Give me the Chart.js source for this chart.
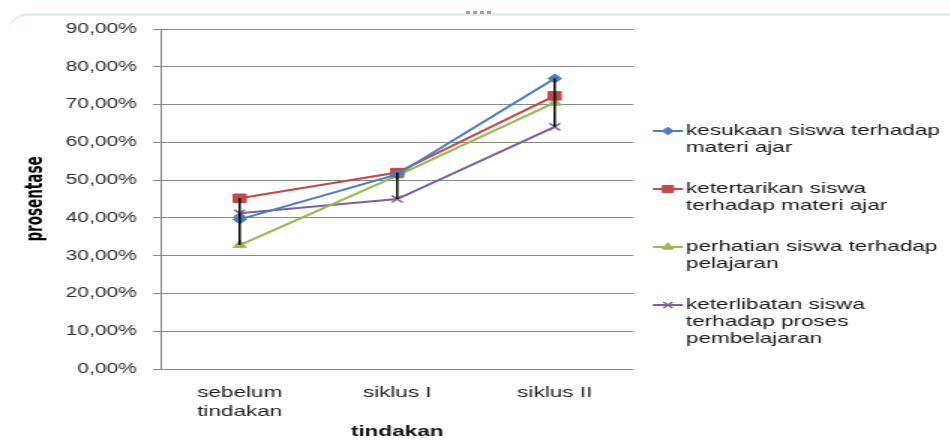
<!DOCTYPE html>
<html>
<head>
<meta charset="utf-8">
<title>prosentase per tindakan</title>
<script src="https://cdn.jsdelivr.net/npm/chart.js@4.4.1/dist/chart.umd.min.js"></script>
<style>
  html, body { margin: 0; padding: 0; background: #ffffff; width: 950px; height: 441px; overflow: hidden; }
  /* the chart is laid out narrow and widened horizontally, like the printed figure */
  #stage { position: absolute; left: 0; top: 0; width: 633.33px; height: 441px;
           transform: scaleX(1.5); transform-origin: 0 0; }
  #frame { position: absolute; left: 8px; top: 13px; width: 960px; height: 24px;
           border-top: 3px solid #e1edf1; border-top-left-radius: 20px; }
  #grip { position: absolute; left: 466px; top: 11px; width: 28px; height: 3px;
          background: repeating-linear-gradient(90deg, #9aa3a8 0 4px, transparent 4px 7px); }
</style>
</head>
<body>
<div id="frame"></div>
<div id="grip"></div>
<div id="stage"><canvas id="chart"></canvas></div>
<script>
// categories on the x axis
const categories = [["sebelum", "tindakan"], "siklus I", "siklus II"];

// series names (legend text, already broken into lines)
const seriesNames = [
  ["kesukaan siswa terhadap", "materi ajar"],
  ["ketertarikan siswa", "terhadap materi ajar"],
  ["perhatian siswa terhadap", "pelajaran"],
  ["keterlibatan siswa", "terhadap proses", "pembelajaran"]
];

// percentages per category
const kesukaan     = [39.6, 51.5, 76.9];
const ketertarikan = [45.2, 52.0, 72.3];
const perhatian    = [32.8, 51.2, 70.5];
const keterlibatan = [41.2, 45.0, 64.1];

// y axis ticks
const yTicks = [0, 10, 20, 30, 40, 50, 60, 70, 80, 90];

const axisTitleX = "tindakan";
const axisTitleY = "prosentase";

const colors = ["#4A7EBB", "#BE4B48", "#98B954", "#7D60A0"];
const styles = ["rectRot", "rect", "triangle", "crossRot"];
const radii  = [4.5, 6, 5, 5];
const seriesData = [kesukaan, ketertarikan, perhatian, keterlibatan];

const datasets = seriesData.map((d, i) => ({
  label: seriesNames[i].join(" "),
  data: d,
  borderColor: colors[i],
  backgroundColor: colors[i],
  borderWidth: 2,
  pointStyle: styles[i],
  pointRadius: radii[i],
  pointBorderWidth: i === 3 ? 1.5 : 1,
  pointBorderColor: colors[i],
  pointBackgroundColor: colors[i],
  tension: 0
}));

// vertical high-low line at each category
const highLowLines = {
  id: "highLowLines",
  afterDatasetsDraw(chart) {
    const { ctx, scales } = chart;
    ctx.save();
    ctx.strokeStyle = "#000000";
    ctx.lineWidth = 1.5;
    categories.forEach((c, i) => {
      const vals = seriesData.map(s => s[i]);
      const x = scales.x.getPixelForValue(i);
      ctx.beginPath();
      ctx.moveTo(x, scales.y.getPixelForValue(Math.max(...vals)));
      ctx.lineTo(x, scales.y.getPixelForValue(Math.min(...vals)));
      ctx.stroke();
    });
    ctx.restore();
  }
};

// legend to the right of the plot, with wrapped entries
const sideLegend = {
  id: "sideLegend",
  afterDraw(chart) {
    const { ctx, chartArea } = chart;
    const x0 = chartArea.right + 13;
    const lineH = 17;
    let y = 131;
    ctx.save();
    ctx.font = "15px 'Liberation Sans', Arial, sans-serif";
    ctx.textBaseline = "middle";
    ctx.textAlign = "left";
    seriesNames.forEach((lines, i) => {
      ctx.strokeStyle = colors[i];
      ctx.lineWidth = 2;
      ctx.beginPath();
      ctx.moveTo(x0, y);
      ctx.lineTo(x0 + 20, y);
      ctx.stroke();
      ctx.fillStyle = colors[i];
      ctx.lineWidth = i === 3 ? 1.5 : 1;
      Chart.helpers.drawPoint(ctx, { pointStyle: styles[i], radius: radii[i] * 0.85, rotation: 0, borderWidth: 1 }, x0 + 10, y);
      ctx.fillStyle = "#151515";
      lines.forEach((t, k) => ctx.fillText(t, x0 + 22, y + k * lineH));
      y += lines.length * lineH + 24;
    });
    ctx.restore();
  }
};

new Chart(document.getElementById("chart"), {
  type: "line",
  data: { labels: categories, datasets },
  options: {
    responsive: true,
    maintainAspectRatio: false,
    animation: false,
    devicePixelRatio: 1,
    layout: { padding: { top: 29, right: 211, left: 0, bottom: 0 } },
    plugins: { legend: { display: false }, tooltip: { enabled: false } },
    scales: {
      x: {
        offset: true,
        grid: { display: false, drawTicks: false },
        border: { display: false },
        ticks: {
          padding: 14.5,
          color: "#1c1c1c",
          font: { family: "'Liberation Sans', Arial, sans-serif", size: 15, lineHeight: 1.25 },
          maxRotation: 0
        },
        title: {
          display: true, text: axisTitleX, color: "#101010",
          font: { family: "'Liberation Sans', Arial, sans-serif", size: 15, weight: "bold", lineHeight: 1.2 },
          padding: { top: 0, bottom: 0 }
        },
        afterFit(scale) { scale.height = 72; }
      },
      y: {
        min: yTicks[0],
        max: yTicks[yTicks.length - 1],
        afterBuildTicks(scale) { scale.ticks = yTicks.map(v => ({ value: v })); },
        grid: { color: "#8a8a8a", lineWidth: 1, tickLength: 5.5, tickColor: "#8a8a8a" },
        border: { color: "#8a8a8a", width: 1 },
        ticks: {
          padding: 10.5,
          color: "#2e2e2e",
          font: { family: "'Liberation Sans', Arial, sans-serif", size: 14 },
          callback: v => v.toFixed(2).replace(".", ",") + "%"
        },
        title: {
          display: true, text: axisTitleY, color: "#000000",
          font: { family: "'Liberation Sans Narrow', 'DejaVu Sans Condensed', 'Liberation Sans', sans-serif", size: 15, weight: "bold", lineHeight: 1.2 },
          padding: { top: 15, bottom: 15 }
        },
        afterFit(scale) { scale.width = 107.3; }
      }
    }
  },
  plugins: [highLowLines, sideLegend]
});
</script>
</body>
</html>
